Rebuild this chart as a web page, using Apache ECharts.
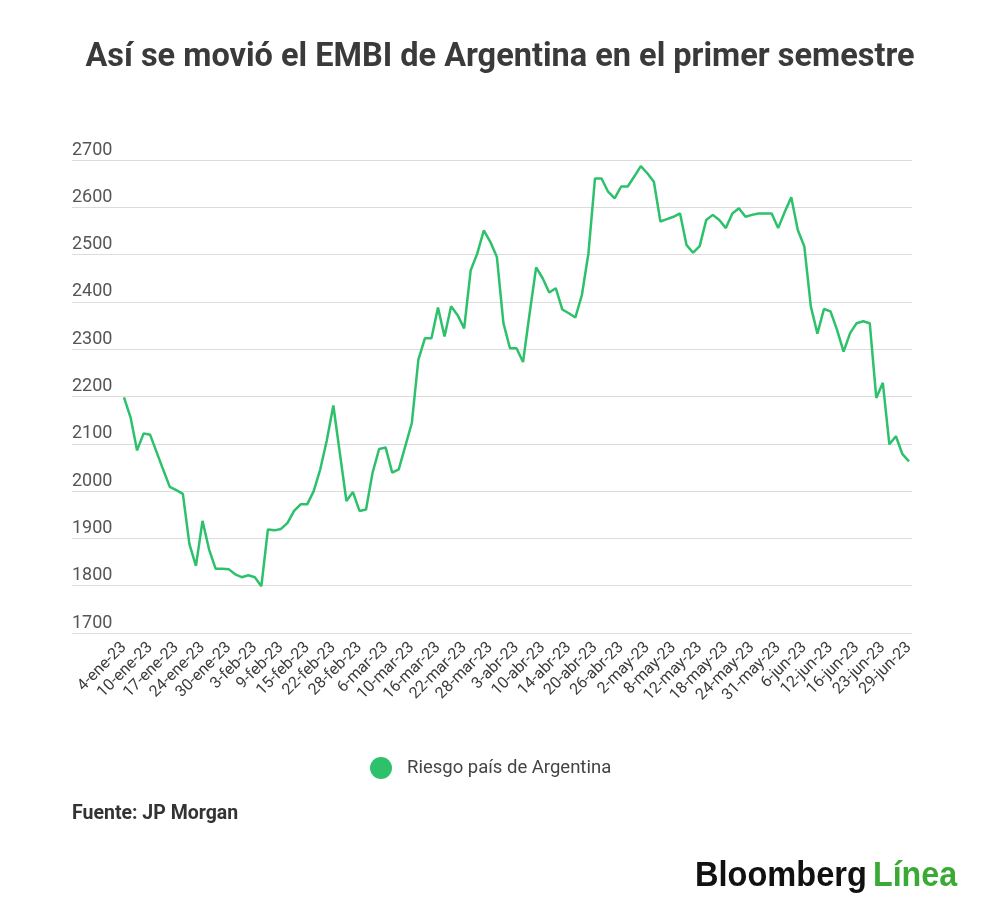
<!DOCTYPE html>
<html>
<head>
<meta charset="utf-8">
<title>EMBI Argentina</title>
<script src="https://cdn.jsdelivr.net/npm/echarts@6/dist/echarts.min.js"></script>
<style>
  html, body { margin: 0; padding: 0; background: #fff; }
  #chart { width: 1000px; height: 920px; }
</style>
</head>
<body>
<div id="chart"></div>
<script>
'use strict';

// dias habiles por mes (2023)
var diasEne = [4, 5, 6, 9, 10, 11, 12, 13, 17, 18, 19, 23, 24, 25, 26, 27, 30, 31];
var diasFeb = [1, 2, 3, 6, 7, 8, 9, 10, 13, 14, 15, 16, 17, 21, 22, 23, 24, 27, 28];
var diasMar = [1, 2, 3, 6, 7, 8, 9, 10, 13, 14, 15, 16, 17, 20, 21, 22, 23, 24, 27, 28, 29, 30, 31];
var diasAbr = [3, 4, 5, 6, 10, 11, 12, 13, 14, 17, 18, 19, 20, 21, 24, 25, 26, 27, 28];
var diasMay = [1, 2, 3, 4, 5, 8, 9, 10, 11, 12, 15, 16, 17, 18, 19, 22, 23, 24, 25, 26, 30, 31];
var diasJun = [1, 2, 5, 6, 7, 8, 9, 12, 13, 14, 15, 16, 20, 21, 22, 23, 26, 27, 28, 29];

// EMBI (puntos basicos)
var embiEne = [2198, 2156, 2086, 2122, 2119, 2082, 2045, 2009, 2002, 1994, 1888, 1842, 1937, 1877, 1836, 1836, 1835, 1824];
var embiFeb = [1818, 1822, 1818, 1799, 1919, 1917, 1920, 1933, 1958, 1972, 1972, 2000, 2046, 2107, 2181, 2080, 1979, 1998, 1958];
var embiMar = [1961, 2039, 2089, 2092, 2039, 2046, 2095, 2144, 2278, 2323, 2323, 2388, 2327, 2391, 2372, 2344, 2467, 2502, 2551, 2527, 2495, 2355, 2302];
var embiAbr = [2302, 2273, 2375, 2473, 2450, 2420, 2429, 2384, 2376, 2367, 2415, 2503, 2661, 2661, 2633, 2619, 2644, 2644, 2665];
var embiMay = [2687, 2672, 2654, 2570, 2575, 2580, 2587, 2520, 2504, 2518, 2573, 2584, 2573, 2556, 2587, 2598, 2580, 2584, 2587, 2587, 2587, 2556];
var embiJun = [2590, 2621, 2552, 2517, 2390, 2333, 2385, 2380, 2341, 2295, 2334, 2355, 2359, 2355, 2197, 2229, 2099, 2116, 2078, 2063];

var yMin = 1700, yMax = 2700, yStep = 100;

var fechas = [];
[['ene', diasEne], ['feb', diasFeb], ['mar', diasMar], ['abr', diasAbr], ['may', diasMay], ['jun', diasJun]]
  .forEach(function (m) {
    m[1].forEach(function (d) { fechas.push(d + '-' + m[0] + '-23'); });
  });
var valores = [].concat(embiEne, embiFeb, embiMar, embiAbr, embiMay, embiJun);

var verde = '#2cc16a';
var fuente = 'Roboto, "Noto Sans", sans-serif';
var logoFont = 'bold 35px "Liberation Sans", Arial, sans-serif';

var myChart = echarts.init(document.getElementById('chart'), null, { renderer: 'canvas' });

myChart.setOption({
  backgroundColor: '#fff',
  textStyle: { fontFamily: fuente },
  title: {
    text: 'Así se movió el EMBI de Argentina en el primer semestre',
    left: 'center',
    top: 36,
    textStyle: { fontSize: 32.5, fontWeight: 'bold', color: '#3a3a3a', fontFamily: fuente }
  },
  legend: {
    left: 365,
    top: 752,
    icon: 'circle',
    itemWidth: 22,
    itemHeight: 22,
    textStyle: { fontSize: 18.5, color: '#444', fontFamily: fuente, padding: [0, 0, 0, 10] },
    data: ['Riesgo país de Argentina']
  },
  grid: [
    // solo lineas de fondo, mas anchas que el area de datos
    { left: 72, right: 88, top: 160, bottom: 287 },
    { left: 124, right: 91, top: 160, bottom: 287 }
  ],
  xAxis: [
    { gridIndex: 0, type: 'value', min: 0, max: 1, show: false },
    {
      gridIndex: 1,
      type: 'category',
      data: fechas,
      boundaryGap: false,
      axisLine: { show: false },
      axisTick: { show: false },
      axisLabel: {
        interval: 3,
        rotate: 45,
        margin: 12,
        fontSize: 16,
        color: '#3c3c3c',
        fontFamily: fuente
      }
    }
  ],
  yAxis: [
    {
      gridIndex: 0,
      type: 'value',
      min: yMin,
      max: yMax,
      interval: yStep,
      axisLine: { show: false },
      axisTick: { show: false },
      splitLine: { lineStyle: { color: '#dcdcdc', width: 1 } },
      axisLabel: {
        inside: true,
        margin: 0,
        align: 'left',
        verticalAlign: 'bottom',
        padding: [0, 0, 1, 0],
        fontSize: 18,
        color: '#555',
        fontFamily: fuente,
        formatter: function (v) { return String(v); }
      }
    },
    { gridIndex: 1, type: 'value', min: yMin, max: yMax, interval: yStep, show: false, splitLine: { show: false } }
  ],
  series: [
    {
      name: 'Riesgo país de Argentina',
      type: 'line',
      xAxisIndex: 1,
      yAxisIndex: 1,
      data: valores,
      showSymbol: false,
      symbol: 'circle',
      itemStyle: { color: verde },
      lineStyle: { color: verde, width: 2.5 },
      animation: false
    }
  ],
  graphic: [
    {
      type: 'text',
      left: 72,
      top: 804,
      style: { text: 'Fuente: JP Morgan', font: 'bold 19.5px ' + fuente, fill: '#333' }
    },
    {
      type: 'text',
      x: 695,
      y: 859,
      scaleX: 0.93,
      style: { text: 'Bloomberg', font: logoFont, fill: '#111', verticalAlign: 'top' }
    },
    {
      type: 'text',
      x: 873,
      y: 859,
      scaleX: 0.92,
      style: { text: 'Línea', font: logoFont, fill: '#3aaa35', verticalAlign: 'top' }
    }
  ]
});
</script>
</body>
</html>
